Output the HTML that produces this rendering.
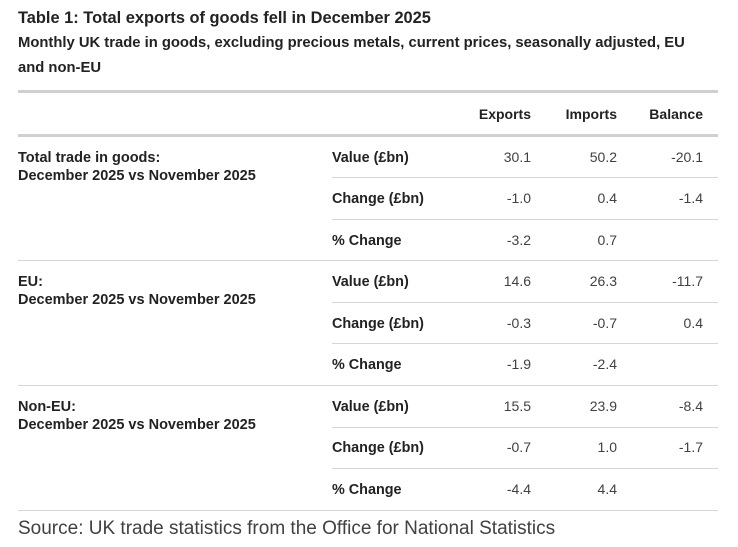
<!DOCTYPE html>
<html>
<head>
<meta charset="utf-8">
<style>
  html,body{margin:0;padding:0;background:#fff;}
  svg{display:block;}
  text{font-family:"Liberation Sans", Arial, sans-serif;}
  .b{font-weight:700;fill:#222;}
  .n{font-weight:400;fill:#414042;font-size:14px;}
</style>
</head>
<body>
<svg width="738" height="547" viewBox="0 0 738 547" xmlns="http://www.w3.org/2000/svg">
  <rect width="738" height="547" fill="#fff"/>
  <!-- Title -->
  <text class="b" x="18" y="23" font-size="16.4">Table 1: Total exports of goods fell in December 2025</text>
  <text class="b" x="18" y="47" font-size="14.8">Monthly UK trade in goods, excluding precious metals, current prices, seasonally adjusted, EU</text>
  <text class="b" x="18" y="72" font-size="14.8">and non-EU</text>

  <!-- thick lines -->
  <rect x="18" y="90" width="700" height="3" fill="#d0d0d0"/>
  <rect x="18" y="134" width="700" height="3" fill="#d0d0d0"/>

  <!-- header -->
  <text class="b" x="531" y="119" font-size="14" text-anchor="end">Exports</text>
  <text class="b" x="617" y="119" font-size="14" text-anchor="end">Imports</text>
  <text class="b" x="703" y="119" font-size="14" text-anchor="end">Balance</text>

  <!-- row lines -->
  <rect x="332" y="177" width="386" height="1" fill="#d6d6d6"/>
  <rect x="332" y="219" width="386" height="1" fill="#d6d6d6"/>
  <rect x="18" y="260" width="700" height="1" fill="#d6d6d6"/>
  <rect x="332" y="302" width="386" height="1" fill="#d6d6d6"/>
  <rect x="332" y="343" width="386" height="1" fill="#d6d6d6"/>
  <rect x="18" y="385" width="700" height="1" fill="#d6d6d6"/>
  <rect x="332" y="427" width="386" height="1" fill="#d6d6d6"/>
  <rect x="332" y="468" width="386" height="1" fill="#d6d6d6"/>
  <rect x="18" y="510" width="700" height="1" fill="#d6d6d6"/>

  <!-- Group 1 -->
  <text class="b" x="18" y="162" font-size="14.5">Total trade in goods:</text>
  <text class="b" x="18" y="180" font-size="14.5">December 2025 vs November 2025</text>
  <text class="b" x="332" y="162" font-size="14.4">Value (£bn)</text>
  <text class="b" x="332" y="203" font-size="14.4">Change (£bn)</text>
  <text class="b" x="332" y="245" font-size="14.4">% Change</text>
  <text class="n" x="531" y="162" text-anchor="end">30.1</text>
  <text class="n" x="617" y="162" text-anchor="end">50.2</text>
  <text class="n" x="703" y="162" text-anchor="end">-20.1</text>
  <text class="n" x="531" y="203" text-anchor="end">-1.0</text>
  <text class="n" x="617" y="203" text-anchor="end">0.4</text>
  <text class="n" x="703" y="203" text-anchor="end">-1.4</text>
  <text class="n" x="531" y="245" text-anchor="end">-3.2</text>
  <text class="n" x="617" y="245" text-anchor="end">0.7</text>

  <!-- Group 2 -->
  <text class="b" x="18" y="286" font-size="14.5">EU:</text>
  <text class="b" x="18" y="304" font-size="14.5">December 2025 vs November 2025</text>
  <text class="b" x="332" y="286" font-size="14.4">Value (£bn)</text>
  <text class="b" x="332" y="328" font-size="14.4">Change (£bn)</text>
  <text class="b" x="332" y="369" font-size="14.4">% Change</text>
  <text class="n" x="531" y="286" text-anchor="end">14.6</text>
  <text class="n" x="617" y="286" text-anchor="end">26.3</text>
  <text class="n" x="703" y="286" text-anchor="end">-11.7</text>
  <text class="n" x="531" y="328" text-anchor="end">-0.3</text>
  <text class="n" x="617" y="328" text-anchor="end">-0.7</text>
  <text class="n" x="703" y="328" text-anchor="end">0.4</text>
  <text class="n" x="531" y="369" text-anchor="end">-1.9</text>
  <text class="n" x="617" y="369" text-anchor="end">-2.4</text>

  <!-- Group 3 -->
  <text class="b" x="18" y="411" font-size="14.5">Non-EU:</text>
  <text class="b" x="18" y="429" font-size="14.5">December 2025 vs November 2025</text>
  <text class="b" x="332" y="411" font-size="14.4">Value (£bn)</text>
  <text class="b" x="332" y="452" font-size="14.4">Change (£bn)</text>
  <text class="b" x="332" y="494" font-size="14.4">% Change</text>
  <text class="n" x="531" y="411" text-anchor="end">15.5</text>
  <text class="n" x="617" y="411" text-anchor="end">23.9</text>
  <text class="n" x="703" y="411" text-anchor="end">-8.4</text>
  <text class="n" x="531" y="452" text-anchor="end">-0.7</text>
  <text class="n" x="617" y="452" text-anchor="end">1.0</text>
  <text class="n" x="703" y="452" text-anchor="end">-1.7</text>
  <text class="n" x="531" y="494" text-anchor="end">-4.4</text>
  <text class="n" x="617" y="494" text-anchor="end">4.4</text>

  <!-- Source -->
  <text x="18" y="534" font-size="19" fill="#414042">Source: UK trade statistics from the Office for National Statistics</text>
</svg>
</body>
</html>
